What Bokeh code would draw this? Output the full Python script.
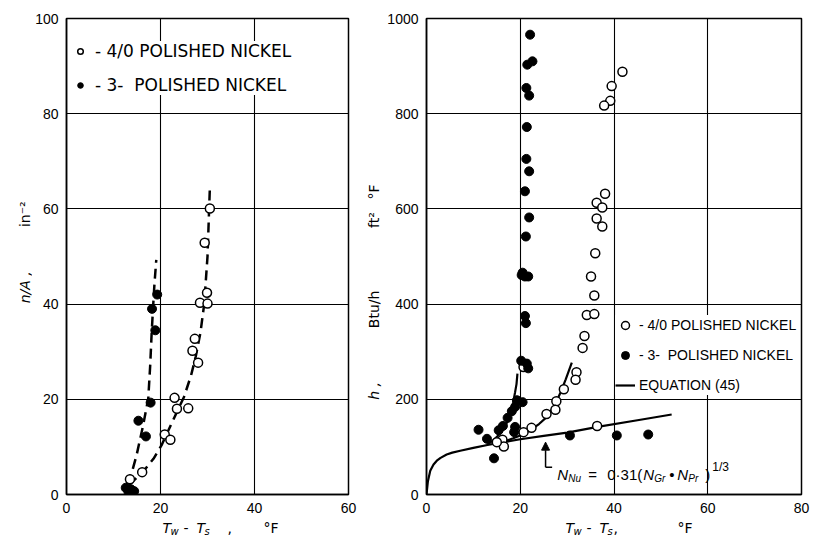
from math import pi
from bokeh.plotting import figure
from bokeh.layouts import row, column
from bokeh.models import (Range1d, SingleIntervalTicker, Legend, LegendItem,
                          Label, Arrow, NormalHead)
from bokeh.embed import file_html
from bokeh.resources import INLINE

# ---------------- data: left panel (n/A vs Tw-Ts) ----------------
left_open_x = [13.5, 16.1, 20.9, 22.1, 23.0, 23.5, 25.9, 26.8, 27.3, 28.0, 28.4, 30.0, 29.9, 29.4, 30.5]
left_open_y = [3.2, 4.7, 12.6, 11.5, 20.3, 18.0, 18.1, 30.2, 32.7, 27.7, 40.3, 40.1, 42.4, 52.9, 60.1]
left_fill_x = [12.6, 13.7, 14.4, 13.2, 15.3, 16.9, 17.9, 18.2, 18.9, 19.3]
left_fill_y = [1.4, 1.1, 0.7, 0.5, 15.5, 12.2, 19.3, 39.0, 34.5, 42.0]
left_open_curve_x = [13.3, 16.3, 18.5, 20.2, 23.0, 25.0, 26.5, 27.5, 28.5, 29.3, 30.0, 30.5]
left_open_curve_y = [2.0, 4.8, 7.5, 10.3, 16.3, 20.5, 25.0, 29.0, 34.0, 40.0, 50.0, 64.4]
left_fill_curve_x = [12.8, 14.0, 14.9, 16.3, 17.4, 17.8, 18.1, 18.4, 18.7, 19.1]
left_fill_curve_y = [2.3, 5.0, 8.2, 14.5, 20.2, 27.0, 33.5, 39.0, 44.0, 49.3]

# ---------------- data: right panel (h vs Tw-Ts) ----------------
right_open_x = [41.8, 39.5, 39.2, 37.9, 38.1, 36.3, 37.5, 36.3, 37.5, 36.0, 35.1, 35.8, 34.2, 35.8,
                33.7, 33.3, 32.0, 31.8, 29.3, 27.7, 27.5, 25.6, 22.4, 20.7, 20.7, 36.4, 16.2, 16.5, 15.0]
right_open_y = [888, 858, 827, 817, 632, 613, 603, 580, 563, 507, 458, 418, 377, 379,
                333, 308, 257, 241, 221, 196, 178, 169, 140, 131, 268, 144, 115, 101, 110]
right_fill_x = [22.1, 21.5, 22.6, 21.3, 21.9, 21.4, 21.3, 21.9, 21.0, 21.9, 21.2, 20.5, 20.3, 21.0,
                21.7, 21.0, 21.2, 20.2, 21.4, 21.7, 20.5, 19.3, 18.9, 18.2, 17.3, 16.3, 15.4, 18.9,
                18.7, 11.1, 12.9, 14.4, 30.6, 40.6, 47.3]
right_fill_y = [966, 903, 910, 854, 838, 772, 705, 679, 637, 582, 542, 466, 461, 458,
                458, 375, 360, 281, 275, 265, 194, 198, 184, 175, 161, 144, 135, 142,
                131, 136, 117, 76, 124, 124, 126]
eq_x = [0, 0.3, 0.8, 1.5, 2.2, 3.0, 4.3, 5.5, 7.2, 10.0, 13.0, 16.4, 20.0, 25.0, 30.0, 36.5, 45.0, 52.3]
eq_y = [0, 28, 50, 63, 71, 77, 84, 88, 92, 98, 104, 110, 116, 123, 130, 142, 156, 168]
steep_x = [12.9, 14.5, 15.7, 16.8, 17.5, 18.1, 18.5, 18.9, 19.2, 19.4]
steep_y = [104, 116, 128, 143, 159, 176, 194, 215, 232, 254]
branch_x = [16.5, 18.5, 20.0, 22.1, 24.0, 25.7, 27.2, 28.5, 29.7, 31.0]
branch_y = [111, 118, 124, 135, 148, 163, 185, 212, 242, 277]

legend_open = "- 4/0 POLISHED NICKEL"
legend_fill = "- 3-\u00a0 POLISHED NICKEL"
legend_eq = "EQUATION (45)"

FONT = "DejaVu Sans"
TICK_FONT = "Liberation Sans"
TOP, BOTTOM = 18, 24
FIG_H = 518          # frame 18 .. 494
STRIP_H = 19


def base_fig(xmax, ymax, xstep, ystep, width, bl, br):
    p = figure(width=width, height=FIG_H,
               x_range=Range1d(0, xmax), y_range=Range1d(0, ymax),
               min_border_left=bl, min_border_right=br,
               min_border_top=TOP, min_border_bottom=BOTTOM,
               output_backend="svg", toolbar_location=None)
    xt = SingleIntervalTicker(interval=xstep)
    yt = SingleIntervalTicker(interval=ystep)
    p.xaxis.ticker = xt
    p.yaxis.ticker = yt
    p.xgrid.ticker = xt
    p.ygrid.ticker = yt
    for ax in p.xaxis + p.yaxis:
        ax.major_tick_in = 0
        ax.major_tick_out = 0
        ax.minor_tick_line_color = None
        ax.axis_line_color = "black"
        ax.axis_line_width = 1.5
        ax.major_label_text_font = TICK_FONT
        ax.major_label_text_font_size = "14px"
        ax.major_label_text_color = "black"
        ax.major_label_standoff = 4
    for g in (p.xgrid, p.ygrid):
        g.grid_line_color = "black"
        g.grid_line_width = 1.1
        g.grid_line_alpha = 1.0
    p.outline_line_color = "black"
    p.outline_line_width = 1.5
    p.background_fill_color = "white"
    p.border_fill_color = "white"
    return p


def blank(w, h):
    f = figure(width=w, height=h, x_range=Range1d(0, w), y_range=Range1d(0, h),
               x_axis_type=None, y_axis_type=None, min_border=0,
               output_backend="svg", toolbar_location=None)
    f.xgrid.visible = False
    f.ygrid.visible = False
    f.outline_line_color = None
    f.background_fill_color = "white"
    f.border_fill_color = "white"
    return f


def lab(p, text, x, y, size, style="normal", angle=0.0, baseline="middle",
        dx=0, dy=0, font=FONT):
    p.add_layout(Label(x=x, y=y, x_offset=dx, y_offset=dy, text=text,
                       text_font=font, text_font_size=f"{size}px",
                       text_font_style=style, text_color="black",
                       text_baseline=baseline, text_align="left", angle=angle))


def style_legend(leg, gw, pad, sp, size, standoff, font):
    leg.label_text_font = font
    leg.label_text_font_size = size
    leg.label_text_color = "black"
    leg.label_height = 20
    leg.glyph_height = 20
    leg.glyph_width = gw
    leg.label_standoff = standoff
    leg.spacing = sp
    leg.padding = pad
    leg.margin = 0
    leg.background_fill_color = "white"
    leg.background_fill_alpha = 1.0
    leg.border_line_color = None


# ---------------- left y-axis title ----------------
ytl = blank(32, FIG_H)
lab(ytl, "n/A ,", 24, 208, 14, "italic", angle=pi / 2)
lab(ytl, "in⁻²", 24, 291, 14, "normal", angle=pi / 2)

# ---------------- left panel ----------------
p1 = base_fig(60, 100, 20, 20, 331, 33, 15)
p1.line(left_open_curve_x, left_open_curve_y, line_color="black", line_width=2.5, line_dash="10 6")
p1.line(left_fill_curve_x, left_fill_curve_y, line_color="black", line_width=2.5, line_dash="10 6")
r1o = p1.scatter(left_open_x, left_open_y, marker="circle", size=9, fill_color="white",
                 line_color="black", line_width=1.5)
r1f = p1.scatter(left_fill_x, left_fill_y, marker="circle", size=9, fill_color="black",
                 line_color="black")
leg1 = Legend(items=[LegendItem(label=legend_open, renderers=[r1o]),
                     LegendItem(label=legend_fill, renderers=[r1f])],
              location=(7, 399))
style_legend(leg1, 14, 8, 14, "17px", 8, FONT)
p1.add_layout(leg1)

# ---------------- right y-axis title ----------------
ytr = blank(20, FIG_H)
lab(ytr, "h ,", 10, 103, 14, "italic", angle=pi / 2)
lab(ytr, "Btu/h", 10, 181, 14, "normal", angle=pi / 2)
lab(ytr, "ft²", 10, 290, 14, "normal", angle=pi / 2)
lab(ytr, "°F", 10, 321, 14, "normal", angle=pi / 2)

# ---------------- right panel ----------------
p2 = base_fig(80, 1000, 20, 200, 449, 43, 31)
r_eq = p2.line(eq_x, eq_y, line_color="black", line_width=2.2)
p2.line(steep_x, steep_y, line_color="black", line_width=2.2)
p2.line(branch_x, branch_y, line_color="black", line_width=2.2)
r2o = p2.scatter(right_open_x, right_open_y, marker="circle", size=9, fill_color="white",
                 line_color="black", line_width=1.5)
r2f = p2.scatter(right_fill_x, right_fill_y, marker="circle", size=9, fill_color="black",
                 line_color="black")
leg2 = Legend(items=[LegendItem(label=legend_open, renderers=[r2o]),
                     LegendItem(label=legend_fill, renderers=[r2f]),
                     LegendItem(label=legend_eq, renderers=[r_eq])],
              location=(189, 99))
style_legend(leg2, 20, 2, 10, "14px", 4, TICK_FONT)
p2.add_layout(leg2)

# leader arrow for the correlation text
ARROW_X, ARROW_Y0, ARROW_Y1, HOOK_X = 25.4, 57, 110, 26.8
EQ_X, EQ_Y = 27.9, 42
p2.add_layout(Arrow(end=NormalHead(size=8, fill_color="black", line_color="black"),
                    x_start=ARROW_X, y_start=ARROW_Y0, x_end=ARROW_X, y_end=ARROW_Y1,
                    line_color="black", line_width=1.5))
p2.add_layout(Arrow(end=None, x_start=ARROW_X, y_start=ARROW_Y0, x_end=HOOK_X, y_end=ARROW_Y0,
                    line_color="black", line_width=1.5))
eq_pieces = [("N", 0, 0, 15, "italic"), ("Nu", 11, -4, 10, "italic"), ("=", 31, 0, 15, "normal"),
             ("0·31", 50, 0, 15, "normal"), ("(", 80, 0, 15, "normal"),
             ("N", 86, 0, 15, "italic"), ("Gr", 97, -4, 10, "italic"), ("•", 112, 0, 15, "normal"),
             ("N", 120, 0, 15, "italic"), ("Pr", 131, -4, 10, "italic"), (")", 148, 0, 15, "normal"),
             ("1/3", 155, 8, 12, "normal")]
for t, dx, dy, s, st in eq_pieces:
    lab(p2, t, EQ_X, EQ_Y, s, st, baseline="alphabetic", dx=dx, dy=dy, font=TICK_FONT)

# ---------------- x-axis titles strip ----------------
strip = blank(832, STRIP_H)
for x0, comma_dx, degf_dx in ((162, 65, 101), (565, 48, 112)):
    lab(strip, "T", x0, 10, 14, "italic")
    lab(strip, "w", x0 + 8, 6, 10, "italic")
    lab(strip, "-", x0 + 21, 10, 14, "normal")
    lab(strip, "T", x0 + 34, 10, 14, "italic")
    lab(strip, "s", x0 + 42, 6, 10, "italic")
    lab(strip, ",", x0 + comma_dx, 10, 14, "normal")
    lab(strip, "°F", x0 + degf_dx, 10, 14, "normal")

layout = column(row(ytl, p1, ytr, p2), strip)
open("out.html", "w").write(file_html(layout, INLINE))
